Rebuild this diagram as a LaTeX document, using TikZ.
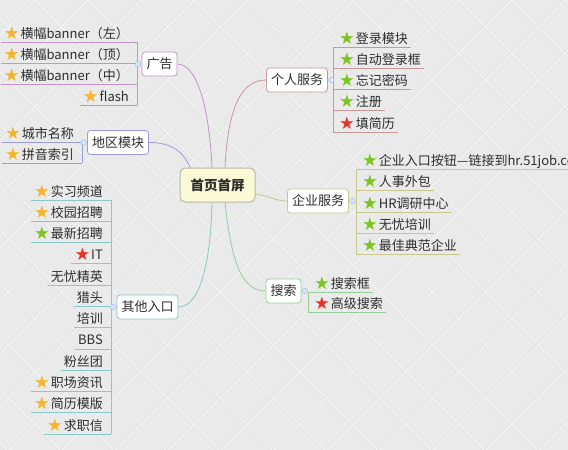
\documentclass[tikz,border=0pt]{standalone}
\usepackage{fontspec}
\setmainfont{Noto Sans CJK SC}
\newfontfamily\symf{DejaVu Sans}
\definecolor{bgc}{HTML}{EAEAEA}
\definecolor{bgline}{HTML}{E0E0E0}
\definecolor{txt}{HTML}{2E2E2E}
\definecolor{cpurp}{HTML}{C594CD}
\definecolor{cblue}{HTML}{9C9CD8}
\definecolor{cteal}{HTML}{8CC6C6}
\definecolor{crose}{HTML}{C99898}
\definecolor{coliv}{HTML}{C9C98E}
\definecolor{cgreen}{HTML}{98CC98}
\definecolor{stgold}{HTML}{F4B52A}
\definecolor{stgreen}{HTML}{7CC520}
\definecolor{stred}{HTML}{E8352A}
\definecolor{dotfill}{HTML}{D8E4F8}
\definecolor{dotdraw}{HTML}{A6BEE6}
\definecolor{cfill}{HTML}{FBF9D6}
\definecolor{cdraw}{HTML}{B8B8A2}
\newcommand\stA{\raisebox{-1pt}{\symf\fontsize{17.5}{17}\selectfont\color{stgold}★}\hspace{1pt}}
\newcommand\stB{\raisebox{-1pt}{\symf\fontsize{17.5}{17}\selectfont\color{stgreen}★}\hspace{1pt}}
\newcommand\stC{\raisebox{-1pt}{\symf\fontsize{17.5}{17}\selectfont\color{stred}★}\hspace{1pt}}
% left item: name, colour, vertical x, line y, text
\newcommand\mmL[5]{%
  \node[item,anchor=base east] (#1) at (#3-8,#4-4) {#5};
  \draw[#2] ([shift={(-3,4)}]#1.base west) -- ([shift={(8,4)}]#1.base east);
}
% right item
\newcommand\mmR[5]{%
  \node[item,anchor=base west] (#1) at (#3+6,#4-4) {#5};
  \draw[#2] ([shift={(-6,4)}]#1.base west) -- ([shift={(3,4)}]#1.base east);
}
\tikzset{
  item/.style={inner sep=0pt, text=txt, font=\fontsize{13}{15}\selectfont},
  branch/.style={rectangle, rounded corners=3pt, fill=white, line width=0.8pt,
    minimum height=24pt, inner xsep=4.5pt, inner ysep=0pt, text=txt,
    font=\fontsize{13}{15}\selectfont},
  centre/.style={rectangle, rounded corners=5pt, fill=cfill, draw=cdraw, line width=1pt,
    minimum width=75pt, minimum height=34pt, text=txt, font=\fontsize{13.5}{15}\selectfont\bfseries},
  dot/.style={circle, fill=dotfill, draw=dotdraw, line width=0.5pt, minimum size=5.5pt, inner sep=0pt},
  lnP/.style={cpurp, line width=0.8pt},
  lnB/.style={cblue, line width=0.8pt},
  lnT/.style={cteal, line width=0.8pt},
  lnR/.style={crose, line width=0.8pt},
  lnO/.style={coliv, line width=0.8pt},
  lnG/.style={cgreen, line width=0.8pt},
  bgl/.style={bgline, line width=0.5pt},
  bgw/.style={white, line width=2pt, opacity=0.35},
}
\begin{document}
\begin{tikzpicture}[x=1pt,y=-1pt]
\useasboundingbox (0,0) rectangle (568,450);
\clip (0,0) rectangle (568,450);
\fill[bgc] (0,0) rectangle (568,450);
% background diamond texture
\foreach \k in {-10,...,11} {
  \draw[bgw] ({32+53*\k-100+1.5},-100) -- ({32+53*\k+600+1.5},600);
  \draw[bgl] ({32+53*\k-100},-100) -- ({32+53*\k+600},600);
}
\foreach \k in {-1,...,20} {
  \draw[bgw] ({33+53*\k+100+1.5},-100) -- ({33+53*\k-600+1.5},600);
  \draw[bgl] ({33+53*\k+100},-100) -- ({33+53*\k-600},600);
}

% central and branch nodes
\node[centre] (C) at (217.5,185) {首页首屏};
\node[branch, draw=cpurp] (ad) at (159.5,64) {广告};
\node[branch, draw=cblue] (reg) at (118,142.5) {地区模块};
\node[branch, draw=cteal] (oth) at (147.5,307) {其他入口};
\node[branch, draw=crose] (pers) at (297,80) {个人服务};
\node[branch, draw=coliv] (ent) at (318,201) {企业服务};
\node[branch, draw=cgreen] (srch) at (283.5,291) {搜索};

% curved connectors
\draw[lnP] ([xshift=-5.5pt]C.north) .. controls (210,120) and (200,64) .. (ad.east);
\draw[lnR] ([xshift=7.5pt]C.north) .. controls (228,110) and (240,80) .. (pers.west);
\draw[lnB] ([xshift=-27.5pt]C.north) .. controls (185,155) and (175,142.5) .. (reg.east);
\draw[lnO] ([yshift=-9pt]C.east) .. controls (270,196) and (275,201) .. (ent.west);
\draw[lnG] ([xshift=7.5pt]C.south) .. controls (232,270) and (245,291) .. (srch.west);
\draw[lnT] ([xshift=-5.5pt]C.south) .. controls (210,280) and (195,307) .. (oth.east);

% 广告
\mmL{a1}{lnP}{137}{42}{\stA 横幅banner（左）}
\mmL{a2}{lnP}{137}{63}{\stA 横幅banner（顶）}
\mmL{a3}{lnP}{137}{84}{\stA 横幅banner（中）}
\mmL{a4}{lnP}{137}{105}{\stA flash}
\draw[lnP] ([shift={(8,4)}]a1.base east) -- ([shift={(8,4)}]a4.base east);
\node[dot] (addot) at ([xshift=-3.5pt]ad.west) {};

% 地区模块
\mmL{b1}{lnB}{82}{142}{\stA 城市名称}
\mmL{b2}{lnB}{82}{163}{\stA 拼音索引}
\draw[lnB] ([shift={(8,4)}]b1.base east) -- ([shift={(8,4)}]b2.base east);
\node[dot] (regdot) at ([xshift=-3.5pt]reg.west) {};

% 其他入口
\mmL{o1}{lnT}{111}{200}{\stA 实习频道}
\mmL{o2}{lnT}{111}{221.3}{\stA 校园招聘}
\mmL{o3}{lnT}{111}{242.5}{\stB 最新招聘}
\mmL{o4}{lnT}{111}{263.8}{\stC IT}
\mmL{o5}{lnT}{111}{285}{无忧精英}
\mmL{o6}{lnT}{111}{306.4}{猎头}
\mmL{o7}{lnT}{111}{327.6}{培训}
\mmL{o8}{lnT}{111}{348.9}{BBS}
\mmL{o9}{lnT}{111}{370}{粉丝团}
\mmL{o10}{lnT}{111}{391.5}{\stA 职场资讯}
\mmL{o11}{lnT}{111}{412.7}{\stA 简历模版}
\mmL{o12}{lnT}{111}{434}{\stA 求职信}
\draw[lnT] ([shift={(8,4)}]o1.base east) -- ([shift={(8,4)}]o12.base east);
\node[dot] (othdot) at ([xshift=-3.5pt]oth.west) {};

% 个人服务
\mmR{p1}{lnR}{333}{47}{\stB 登录模块}
\mmR{p2}{lnR}{333}{68}{\stB 自动登录框}
\mmR{p3}{lnR}{333}{89}{\stB 忘记密码}
\mmR{p4}{lnR}{333}{110}{\stB 注册}
\mmR{p5}{lnR}{333}{132}{\stC 填简历}
\draw[lnR] ([shift={(-6,4)}]p1.base west) -- ([shift={(-6,4)}]p5.base west);
\node[dot] (persdot) at ([xshift=3.5pt]pers.east) {};

% 企业服务
\mmR{e1}{lnO}{356}{169}{\stB 企业入口按钮—链接到hr.51job.com}
\mmR{e2}{lnO}{356}{190}{\stB 人事外包}
\mmR{e3}{lnO}{356}{212}{\stB HR调研中心}
\mmR{e4}{lnO}{356}{233}{\stB 无忧培训}
\mmR{e5}{lnO}{356}{254}{\stB 最佳典范企业}
\draw[lnO] ([shift={(-6,4)}]e1.base west) -- ([shift={(-6,4)}]e5.base west);
\node[dot] (entdot) at ([xshift=3.5pt]ent.east) {};

% 搜索
\mmR{s1}{lnG}{308}{292}{\stB 搜索框}
\mmR{s2}{lnG}{308}{312}{\stC 高级搜索}
\draw[lnG] ([shift={(-6,4)}]s1.base west) -- ([shift={(-6,4)}]s2.base west);
\node[dot] (srchdot) at ([xshift=3.5pt]srch.east) {};
\end{tikzpicture}
\end{document}
